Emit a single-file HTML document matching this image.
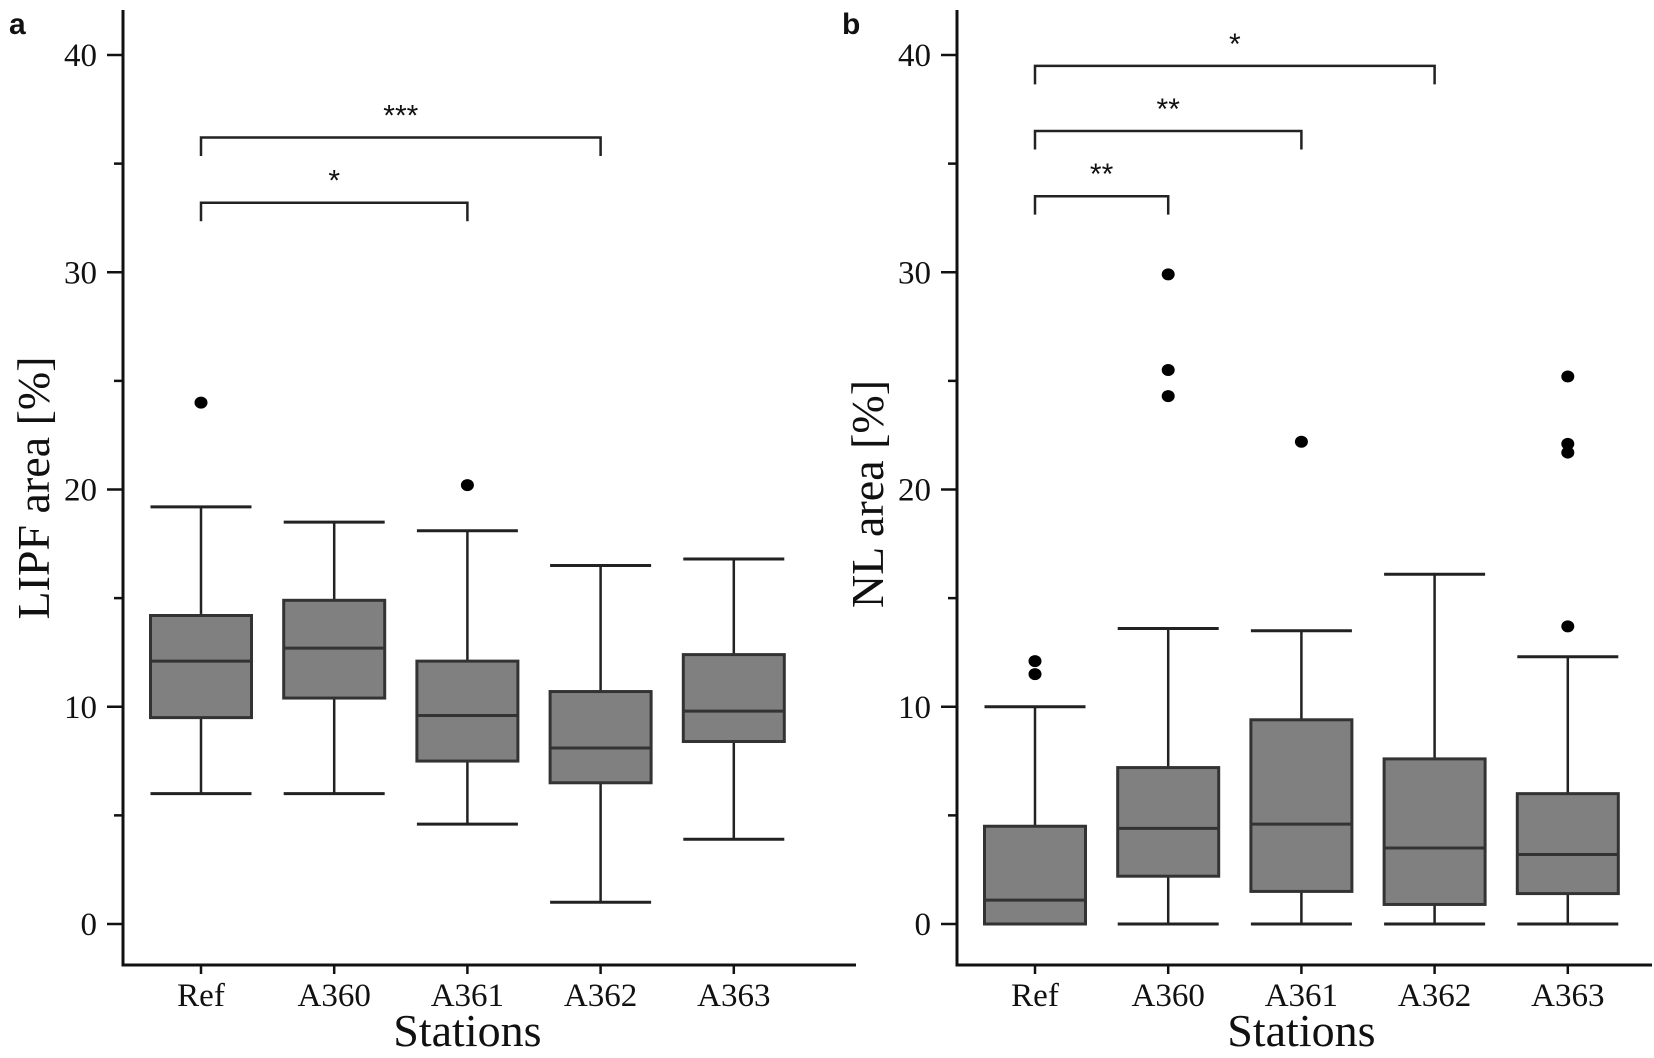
<!DOCTYPE html>
<html><head><meta charset="utf-8"><style>
html,body{margin:0;padding:0;background:#fff}
svg{display:block}
text{font-family:"Liberation Serif",serif;fill:#111}
</style></head><body>
<svg id="chart" width="1654" height="1058" viewBox="0 0 1654 1058" xmlns="http://www.w3.org/2000/svg"></svg>
<script>
const categories = ["Ref","A360","A361","A362","A363"];
const aLow = [6.0,6.0,4.6,1.0,3.9];
const aQ1 = [9.5,10.4,7.5,6.5,8.4];
const aMed = [12.1,12.7,9.6,8.1,9.8];
const aQ3 = [14.2,14.9,12.1,10.7,12.4];
const aHigh = [19.2,18.5,18.1,16.5,16.8];
const aOut = [[24.0],[],[20.2],[],[]];
const bLow = [0,0,0,0,0];
const bQ1 = [0,2.2,1.5,0.9,1.4];
const bMed = [1.1,4.4,4.6,3.5,3.2];
const bQ3 = [4.5,7.2,9.4,7.6,6.0];
const bHigh = [10.0,13.6,13.5,16.1,12.3];
const bOut = [[11.5,12.1],[24.3,25.5,29.9],[22.2],[],[13.7,21.7,22.1,25.2]];
const yTicks = [0,10,20,30,40];
const yMinor = [5,15,25,35];
const aSig = [{from:0,to:2,y:33.2,label:"*"},{from:0,to:3,y:36.2,label:"***"}];
const bSig = [{from:0,to:1,y:33.5,label:"**"},{from:0,to:2,y:36.5,label:"**"},{from:0,to:3,y:39.5,label:"*"}];

const NS="http://www.w3.org/2000/svg";
const svg=document.getElementById('chart');
function el(tag,attrs,parent){const e=document.createElementNS(NS,tag);for(const k in attrs)e.setAttribute(k,attrs[k]);(parent||svg).appendChild(e);return e;}
const Y0=924, Y40=55;
function y(v){return Y0-(v/40)*(Y0-Y40);}

function panel(opts){
  const g=el('g',{});
  
  
  const ax=opts.axisX, x0=opts.firstX, step=133.2, bw=101, axisY=965;
  const x=i=>x0+i*step;
  const yl=el('line',{x1:ax,y1:10,x2:ax,y2:axisY+1.5,stroke:'#111','stroke-width':3},g);
  
  
  const xl=el('line',{x1:ax-1.5,y1:axisY,x2:opts.axisEnd,y2:axisY,stroke:'#111','stroke-width':3},g);
  
  
  yTicks.forEach(v=>{
    el('line',{x1:ax-16,y1:y(v),x2:ax,y2:y(v),stroke:'#111','stroke-width':2.5},g);
    const t=el('text',{x:ax-26,y:y(v)+11,'font-size':33,'text-anchor':'end'},g);
    t.textContent=v;
    
    
  });
  yMinor.forEach(v=>el('line',{x1:ax-9,y1:y(v),x2:ax,y2:y(v),stroke:'#111','stroke-width':2.5},g));
  categories.forEach((c,i)=>{
    el('line',{x1:x(i),y1:axisY,x2:x(i),y2:axisY+9,stroke:'#111','stroke-width':2.5},g);
    const t=el('text',{x:x(i),y:1006,'font-size':33,'text-anchor':'middle'},g);
    t.textContent=c;
    
    
  });
  const xt=el('text',{x:x(2),y:1046,'font-size':46,'text-anchor':'middle'},g);
  xt.textContent='Stations';
  
  
  const yt=el('text',{x:0,y:0,'font-size':46,'text-anchor':'middle',transform:`translate(${ax-74},${opts.ytitleY}) rotate(-90)`},g);
  yt.textContent=opts.ytitle;
  
  
  const pl=el('text',{x:opts.letterX,y:34,'font-size':30,'font-weight':'bold',style:'font-family:"Liberation Sans",sans-serif'},g);
  pl.textContent=opts.letter;
  
  
  categories.forEach((c,i)=>{
    const bg=el('g',{},g);
    
    
    const cx=x(i), l=cx-bw/2, r=cx+bw/2;
    el('line',{x1:cx,y1:y(opts.high[i]),x2:cx,y2:y(opts.low[i]),stroke:'#222','stroke-width':2.5},bg);
    el('line',{x1:l,y1:y(opts.high[i]),x2:r,y2:y(opts.high[i]),stroke:'#222','stroke-width':3},bg);
    el('line',{x1:l,y1:y(opts.low[i]),x2:r,y2:y(opts.low[i]),stroke:'#222','stroke-width':3},bg);
    el('rect',{x:l,y:y(opts.q3[i]),width:bw,height:Math.max(y(opts.q1[i])-y(opts.q3[i]),0.1),fill:'#808080',stroke:'#333','stroke-width':3},bg);
    el('line',{x1:l,y1:y(opts.med[i]),x2:r,y2:y(opts.med[i]),stroke:'#333','stroke-width':3},bg);
    opts.out[i].forEach(v=>{
      const p=el('ellipse',{cx:cx,cy:y(v),rx:6.5,ry:6,fill:'#000'},bg);
      
      
    });
  });
  opts.sig.forEach(s=>{
    const sg=el('g',{},g);
    
    
    const a=x(s.from), b=x(s.to), yy=y(s.y), d=y(s.y-0.85)-yy;
    el('polyline',{points:`${a},${yy+d} ${a},${yy} ${b},${yy} ${b},${yy+d}`,fill:'none',stroke:'#222','stroke-width':2.5},sg);
    const t=el('text',{x:(a+b)/2,y:yy-12,'font-size':30,'text-anchor':'middle',style:'font-family:"Liberation Sans",sans-serif'},sg);
    t.textContent=s.label;
  });
}
panel({name:'panel-a',axisX:123,axisEnd:856,firstX:201,ytitle:'LIPF area [%]',ytitleY:488,letter:'a',letterX:9,
  low:aLow,q1:aQ1,med:aMed,q3:aQ3,high:aHigh,out:aOut,sig:aSig});
panel({name:'panel-b',axisX:957,axisEnd:1652,firstX:1035,ytitle:'NL area [%]',ytitleY:494,letter:'b',letterX:842,
  low:bLow,q1:bQ1,med:bMed,q3:bQ3,high:bHigh,out:bOut,sig:bSig});
</script>
</body></html>
